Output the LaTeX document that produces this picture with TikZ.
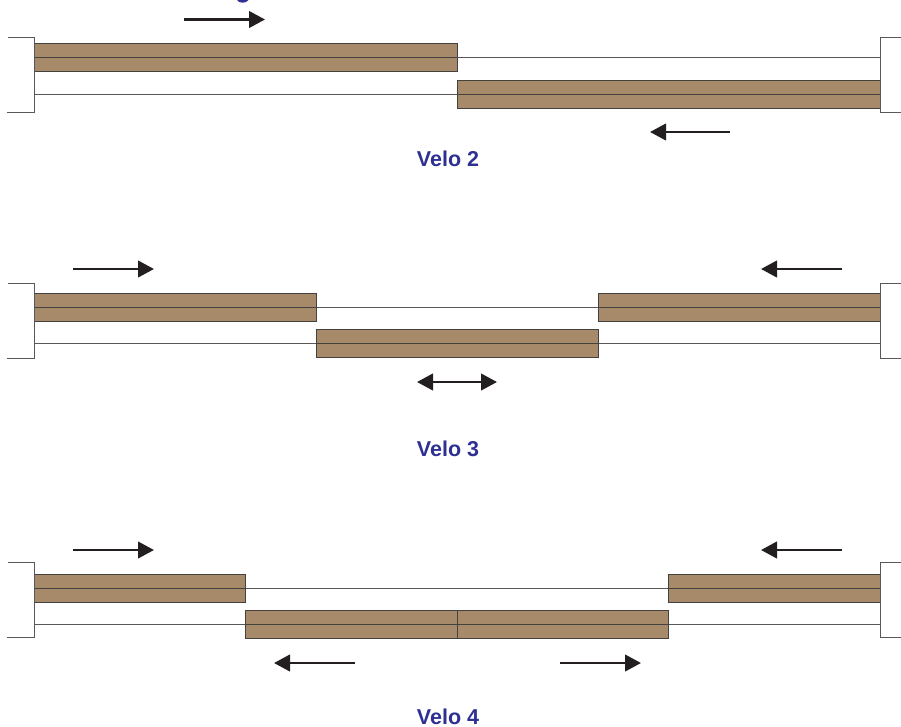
\documentclass[tikz,border=0pt]{standalone}
\usepackage{fontspec}
\setmainfont{Liberation Sans}
\usetikzlibrary{arrows.meta}
\definecolor{panelbrown}{HTML}{A68A69}
\definecolor{linedark}{HTML}{231F20}
\definecolor{railgrey}{HTML}{5A5758}
\definecolor{veloblue}{HTML}{2E3192}
\tikzset{
    panel/.style={draw=linedark!85, line width=0.9pt, fill=panelbrown, minimum height=28pt, inner sep=0pt},
    rail/.style={draw=railgrey, line width=0.95pt},
    midline/.style={draw=linedark!85, line width=0.9pt},
    move/.style={draw=linedark, line width=2.6pt, {Triangle[length=16pt,width=16.5pt,fill=linedark]}-{Triangle[length=16pt,width=16.5pt,fill=linedark]}},
    moveright/.style={draw=linedark, line width=2.6pt, -{Triangle[length=16pt,width=16.5pt,fill=linedark]}},
    velolabel/.style={text=veloblue, inner sep=0pt, font=\fontsize{21.5}{25}\selectfont\bfseries}
}
\begin{document}
\begin{tikzpicture}[x=1pt, y=-1pt]
    \useasboundingbox (0,0) rectangle (901,726);

    % Window jambs, shared by all three tracks
    \coordinate (jambL) at (34.3,0);
    \coordinate (jambR) at (880.3,0);

    % Cut-off glyph at the top edge
    \fill[veloblue] (237,0) .. controls (239,3.6) and (246,3.6) .. (248.5,0) -- cycle;

    % Two panels
    \node[panel, minimum width=423pt] (twoa) at (245.5,57.5) {};
    \node[panel, minimum width=423pt] (twob) at (668.8,94) {};
    \draw[midline] (twoa.west) -- (twoa.east);
    \draw[midline] (twob.west) -- (twob.east);
    \draw[rail] (twoa.east) -- (jambR |- twoa.east);
    \draw[rail] (jambL |- twob.west) -- (twob.west);
    % Brackets
    \coordinate (twotop) at (0,37.7);
    \coordinate (twobot) at (0,112);
    \draw[rail] (8,37.7) -- (jambL |- twotop) -- (jambL |- twobot) -- (7,112);
    \draw[rail] (901,37.7) -- (jambR |- twotop) -- (jambR |- twobot) -- (901,112);
    % Directions
    \coordinate (twoas) at (184,19.5);
    \coordinate (twoae) at (265,19.5);
    \coordinate (twobs) at (730,132);
    \coordinate (twobe) at (650,132);
    \draw[moveright] (twoas) -- (twoae);
    \draw[moveright] (twobs) -- (twobe);
    \node[velolabel] (velotwo) at (448,158.6) {Velo 2};

    % Three panels
    \node[panel, minimum width=282pt] (threea) at (175.3,307.3) {};
    \node[panel, minimum width=282pt] (threeb) at (457.3,343.7) {};
    \node[panel, minimum width=282pt] (threec) at (739.3,307.3) {};
    \draw[midline] (threea.west) -- (threea.east);
    \draw[midline] (threeb.west) -- (threeb.east);
    \draw[midline] (threec.west) -- (threec.east);
    \draw[rail] (threea.east) -- (threec.west);
    \draw[rail] (jambL |- threeb.west) -- (threeb.west);
    \draw[rail] (threeb.east) -- (jambR |- threeb.east);
    % Brackets
    \coordinate (threetop) at (0,283.7);
    \coordinate (threebot) at (0,358.3);
    \draw[rail] (8,283.7) -- (jambL |- threetop) -- (jambL |- threebot) -- (7,358.3);
    \draw[rail] (901,283.7) -- (jambR |- threetop) -- (jambR |- threebot) -- (901,358.3);
    % Directions
    \coordinate (threeas) at (73,269);
    \coordinate (threeae) at (154,269);
    \coordinate (threecs) at (842,269);
    \coordinate (threece) at (761,269);
    \coordinate (threebs) at (417,382);
    \coordinate (threebe) at (497,382);
    \draw[moveright] (threeas) -- (threeae);
    \draw[moveright] (threecs) -- (threece);
    \draw[move] (threebs) -- (threebe);
    \node[velolabel] (velothree) at (448,449.3) {Velo 3};

    % Four panels
    \node[panel, minimum width=211.5pt] (foura) at (140.05,588.7) {};
    \node[panel, minimum width=211.5pt] (fourb) at (351.55,624.9) {};
    \node[panel, minimum width=211.5pt] (fourc) at (563.05,624.9) {};
    \node[panel, minimum width=211.5pt] (fourd) at (774.55,588.7) {};
    \draw[midline] (foura.west) -- (foura.east);
    \draw[midline] (fourb.west) -- (fourb.east);
    \draw[midline] (fourc.west) -- (fourc.east);
    \draw[midline] (fourd.west) -- (fourd.east);
    \draw[rail] (foura.east) -- (fourd.west);
    \draw[rail] (jambL |- fourb.west) -- (fourb.west);
    \draw[rail] (fourc.east) -- (jambR |- fourc.east);
    % Brackets
    \coordinate (fourtop) at (0,562.7);
    \coordinate (fourbot) at (0,637);
    \draw[rail] (8,562.7) -- (jambL |- fourtop) -- (jambL |- fourbot) -- (7,637);
    \draw[rail] (901,562.7) -- (jambR |- fourtop) -- (jambR |- fourbot) -- (901,637);
    % Directions
    \coordinate (fouras) at (73,550);
    \coordinate (fourae) at (154,550);
    \coordinate (fourds) at (842,550);
    \coordinate (fourde) at (761,550);
    \coordinate (fourbs) at (355,663);
    \coordinate (fourbe) at (274,663);
    \coordinate (fourcs) at (560,663);
    \coordinate (fource) at (641,663);
    \draw[moveright] (fouras) -- (fourae);
    \draw[moveright] (fourds) -- (fourde);
    \draw[moveright] (fourbs) -- (fourbe);
    \draw[moveright] (fourcs) -- (fource);
    \node[velolabel] (velofour) at (448,716.6) {Velo 4};
\end{tikzpicture}
\end{document}
